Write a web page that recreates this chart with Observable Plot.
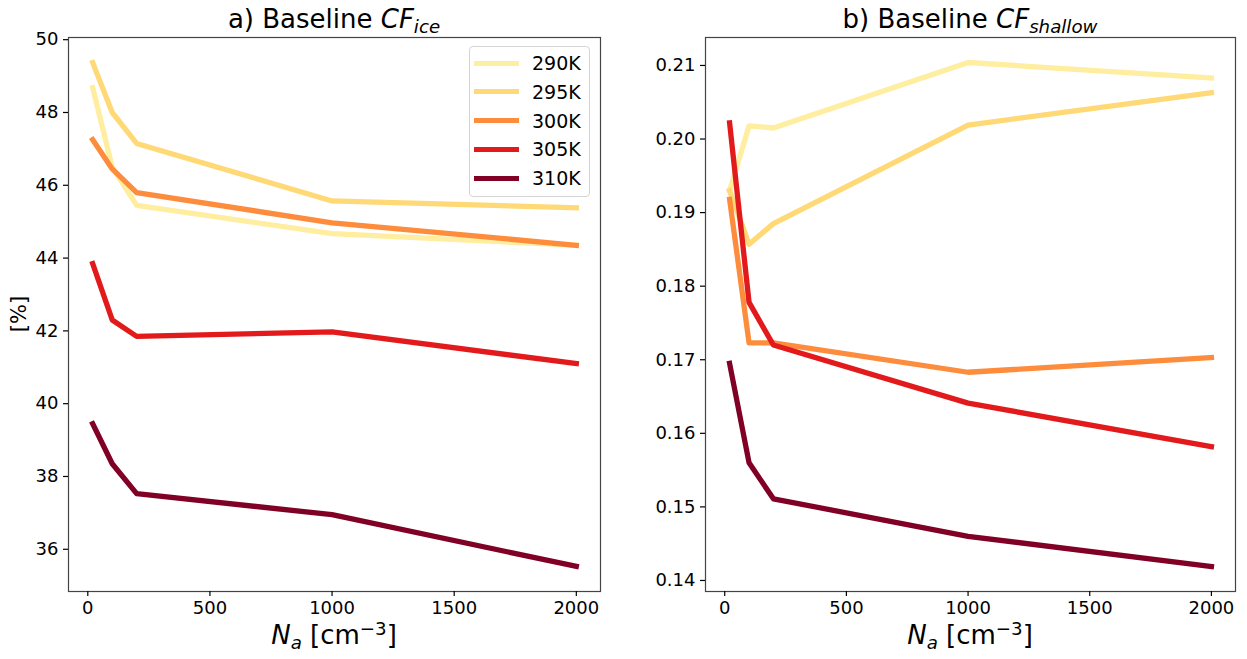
<!DOCTYPE html>
<html><head><meta charset="utf-8">
<script src="https://cdn.jsdelivr.net/npm/d3@7"></script>
<script src="https://cdn.jsdelivr.net/npm/@observablehq/plot@0.6"></script>
<style>
body{margin:0;background:#fff;font-family:"DejaVu Sans",sans-serif;color:#000;}
#wrap{position:relative;width:1247px;height:659px;overflow:hidden;}
.abs{position:absolute;white-space:nowrap;}
.sub{font-size:70%;position:relative;top:0.3em;}
.sup{font-size:70%;position:relative;top:-0.5em;}
#legend{position:absolute;left:469px;top:46px;width:121px;height:151px;border:1px solid #d4d4d4;border-radius:4px;background:rgba(255,255,255,0.8);box-sizing:border-box;}
.lrow{position:absolute;left:4px;height:22px;display:flex;align-items:center;font-size:19px;}
.lrow span.sw{display:inline-block;width:45px;height:5px;margin-right:13px;}
</style>
</head><body>
<div id="wrap"></div>
<script>
// Data
const Na = [20, 100, 200, 1000, 2000];
const temps = ["290K", "295K", "300K", "305K", "310K"];
const colors = ["#ffeda0", "#fed976", "#fd8d3c", "#e31a1c", "#800026"];

const cfIce290 = [48.68, 46.5, 45.45, 44.67, 44.35];
const cfIce295 = [49.37, 48.0, 47.15, 45.57, 45.38];
const cfIce300 = [47.25, 46.45, 45.8, 44.97, 44.35];
const cfIce305 = [43.85, 42.3, 41.85, 41.97, 41.1];
const cfIce310 = [39.45, 38.35, 37.53, 36.95, 35.53];

const cfSh290 = [0.1930, 0.2018, 0.2015, 0.2104, 0.2083];
const cfSh295 = [0.1930, 0.1857, 0.1885, 0.2019, 0.2063];
const cfSh300 = [0.1918, 0.1723, 0.1723, 0.1683, 0.1703];
const cfSh305 = [0.2022, 0.1778, 0.1720, 0.1641, 0.1582];
const cfSh310 = [0.1695, 0.1560, 0.1511, 0.1460, 0.1419];

const xTicks = [0, 500, 1000, 1500, 2000];
const iceTicks = [36, 38, 40, 42, 44, 46, 48, 50];
const shTicks = [0.14, 0.15, 0.16, 0.17, 0.18, 0.19, 0.20, 0.21];

function rows(series) {
  const out = [];
  series.forEach((vals, i) => vals.forEach((v, j) => out.push({Na: Na[j], v, T: temps[i]})));
  return out;
}
const iceRows = rows([cfIce290, cfIce295, cfIce300, cfIce305, cfIce310]);
const shRows = rows([cfSh290, cfSh295, cfSh300, cfSh305, cfSh310]);

const wrap = document.getElementById("wrap");

function panel(data, yDomain, yTicks, yFmt, opts) {
  const p = Plot.plot({
    width: opts.width, height: 659,
    marginLeft: opts.ml, marginRight: opts.mr, marginTop: 37, marginBottom: 68,
    style: {fontSize: "18px", fontFamily: "DejaVu Sans", color: "#000", background: "transparent", overflow: "visible"},
    x: {domain: [-79, 2099]},
    y: {domain: yDomain},
    color: {domain: temps, range: colors},
    marks: [
      Plot.line(data, {x: "Na", y: "v", z: "T", stroke: "T", strokeWidth: 5.3, strokeLinecap: "square", strokeLinejoin: "round"}),
      Plot.frame({stroke: "#444", strokeWidth: 1.2}),
      Plot.axisX({ticks: xTicks, tickSize: 5, tickPadding: 5, label: null, tickFormat: d3.format("d"), strokeWidth: 1.2}),
      Plot.axisY({ticks: yTicks, tickSize: 5, tickPadding: 5, label: null, tickFormat: yFmt, strokeWidth: 1.2})
    ]
  });
  p.style.position = "absolute";
  p.style.left = opts.left + "px";
  p.style.top = "0px";
  wrap.appendChild(p);
}

panel(iceRows, [34.84, 50.06], iceTicks, d3.format("d"), {width: 620, ml: 68, mr: 20, left: 0});
panel(shRows, [0.1385, 0.2138], shTicks, d3.format(".2f"), {width: 627, ml: 85, mr: 12, left: 620});

function addText(html, x, y, size, rotate) {
  const d = document.createElement("div");
  d.className = "abs";
  d.innerHTML = html;
  d.style.left = x + "px";
  d.style.top = y + "px";
  d.style.fontSize = size + "px";
  d.style.transform = "translate(-50%,-50%)" + (rotate ? " rotate(-90deg)" : "");
  wrap.appendChild(d);
}
addText('a) Baseline <i>CF<span class="sub">ice</span></i>', 334, 19, 26);
addText('b) Baseline <i>CF<span class="sub">shallow</span></i>', 970, 19, 26);
addText('<i>N<span class="sub">a</span></i> [cm<span class="sup">−3</span>]', 334, 635, 26);
addText('<i>N<span class="sub">a</span></i> [cm<span class="sup">−3</span>]', 970, 635, 26);
addText('[%]', 19, 314, 21, true);

const leg = document.createElement("div");
leg.id = "legend";
temps.forEach((t, i) => {
  const r = document.createElement("div");
  r.className = "lrow";
  r.style.top = (5 + i * 28.8) + "px";
  r.innerHTML = `<span class="sw" style="background:${colors[i]}"></span><span>${t}</span>`;
  leg.appendChild(r);
});
wrap.appendChild(leg);
</script>
</body></html>
